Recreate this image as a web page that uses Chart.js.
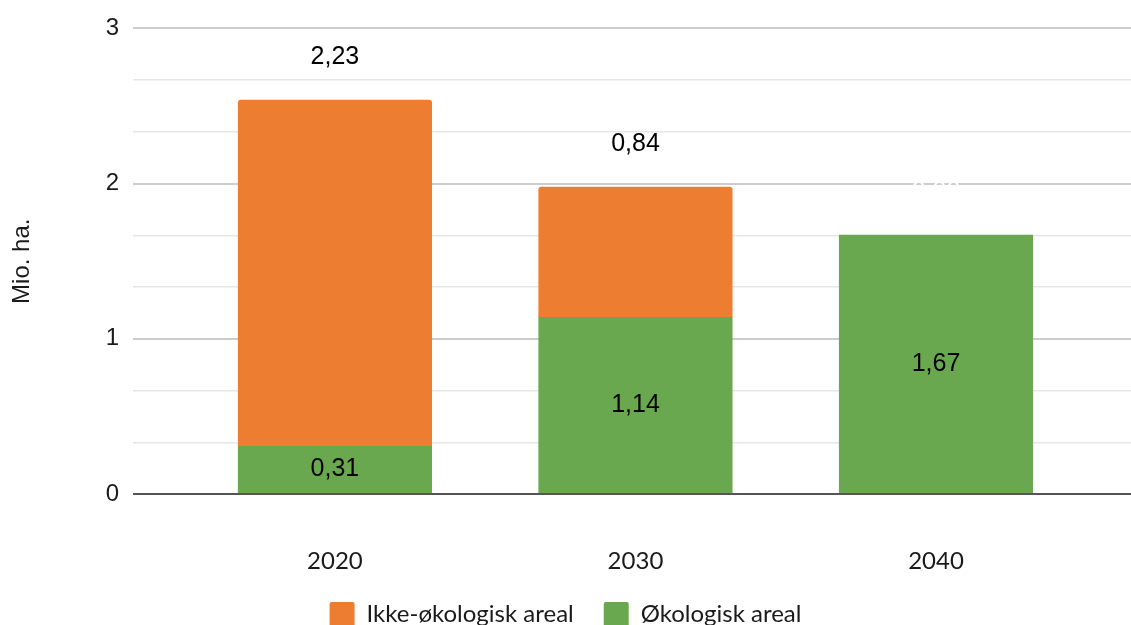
<!DOCTYPE html>
<html>
<head>
<meta charset="utf-8">
<script src="https://cdn.jsdelivr.net/npm/chart.js@4.4.1/dist/chart.umd.min.js"></script>
<style>
  html, body { margin: 0; padding: 0; background: #fff; overflow: hidden; }
</style>
</head>
<body>
<canvas id="chart" width="1131" height="637"></canvas>
<script>
// data (Mio. ha.)
var years = [2020, 2030, 2040];
var okologisk = [0.31, 1.14, 1.67];
var ikkeOkologisk = [2.23, 0.84, 0];
var seriesNames = ['Økologisk areal', 'Ikke-økologisk areal'];
var yMax = 3;

var orange = '#ED7D31';
var green = '#6AA84F';

function fmt(v){
  return v.toFixed(2).replace('.', ',');
}

function toPoints(vals){
  return years.map(function(y, i){ return {x: y, y: vals[i]}; });
}

// value labels: green in the middle of its segment, orange above the stack
var valueLabels = {
  id: 'valueLabels',
  afterDatasetsDraw: function(chart){
    var ctx = chart.ctx;
    ctx.save();
    ctx.font = '25px "Liberation Sans", Arial, sans-serif';
    ctx.textAlign = 'center';
    ctx.textBaseline = 'middle';
    var okoMeta = chart.getDatasetMeta(0);
    okoMeta.data.forEach(function(el, i){
      ctx.fillStyle = '#000';
      ctx.fillText(fmt(okologisk[i]), el.x, (el.y + el.base) / 2);
    });
    var ikkeMeta = chart.getDatasetMeta(1);
    ikkeMeta.data.forEach(function(el, i){
      ctx.fillStyle = ikkeOkologisk[i] > 0 ? '#000' : '#fff';
      ctx.fillText(fmt(ikkeOkologisk[i]), el.x, el.y - 43);
    });
    ctx.restore();
  }
};

var chart = new Chart(document.getElementById('chart').getContext('2d'), {
  type: 'bar',
  data: {
    datasets: [{
      label: seriesNames[0],
      data: toPoints(okologisk),
      backgroundColor: green,
      borderRadius: 0,
      barPercentage: 1,
      categoryPercentage: 0.646
    }, {
      label: seriesNames[1],
      data: toPoints(ikkeOkologisk),
      backgroundColor: orange,
      borderRadius: {topLeft: 3, topRight: 3, bottomLeft: 0, bottomRight: 0},
      borderSkipped: 'start',
      barPercentage: 1,
      categoryPercentage: 0.646
    }]
  },
  options: {
    responsive: false,
    animation: false,
    devicePixelRatio: 1,
    layout: { padding: { top: 27, left: 0, right: 0, bottom: 0 } },
    plugins: {
      tooltip: { enabled: false },
      legend: {
        position: 'bottom',
        reverse: true,
        labels: {
          boxWidth: 25,
          boxHeight: 25,
          padding: 30,
          color: '#1a1a1a',
          useBorderRadius: true,
          borderRadius: 2,
          font: { family: 'Lato, "Open Sans", sans-serif', size: 24 }
        }
      }
    },
    scales: {
      x: {
        type: 'linear',
        stacked: true,
        min: 2013.28,
        max: 2046.49,
        offset: false,
        grid: { display: false, drawTicks: false },
        border: { display: false },
        afterBuildTicks: function(scale){
          scale.ticks = years.map(function(y){ return {value: y}; });
        },
        afterFit: function(scale){ scale.height = 78; },
        ticks: {
          padding: 56,
          maxRotation: 0,
          color: '#1a1a1a',
          font: { family: 'Lato, "Open Sans", sans-serif', size: 24, lineHeight: 0.95 },
          callback: function(v){ return String(v); }
        }
      },
      y: {
        stacked: true,
        min: 0,
        max: yMax,
        afterBuildTicks: function(scale){
          var t = [];
          for (var i = 0; i <= yMax * 3; i++) t.push({value: i / 3});
          scale.ticks = t;
        },
        afterFit: function(scale){ scale.width = 133; },
        grid: {
          drawTicks: false,
          color: function(c){
            var v = c.tick.value;
            if (Math.abs(v) < 1e-6) return '#555555';
            return Math.abs(v - Math.round(v)) < 1e-6 ? '#cccccc' : '#e6e6e6';
          },
          lineWidth: function(c){
            var v = c.tick.value;
            return Math.abs(v - Math.round(v)) < 1e-6 ? 2 : 1.5;
          }
        },
        border: { display: false },
        ticks: {
          padding: 14,
          color: '#1a1a1a',
          font: { family: '"Liberation Sans", Arial, sans-serif', size: 24 },
          callback: function(v){
            return Math.abs(v - Math.round(v)) < 1e-6 ? String(Math.round(v)) : '';
          }
        },
        title: {
          display: true,
          text: 'Mio. ha.',
          color: '#1a1a1a',
          padding: { top: 8, bottom: 0 },
          font: { family: '"Liberation Sans", Arial, sans-serif', size: 24 }
        }
      }
    }
  },
  plugins: [valueLabels]
});
</script>
</body>
</html>
